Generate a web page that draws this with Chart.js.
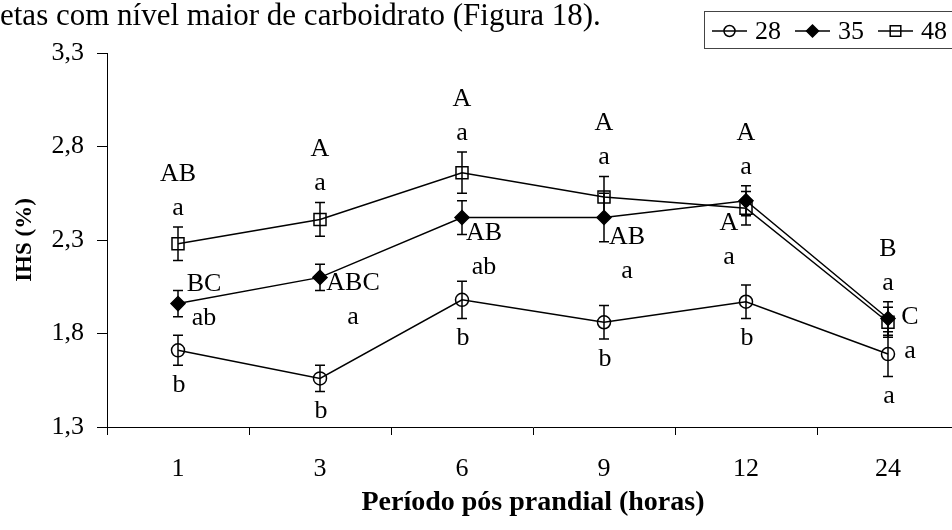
<!DOCTYPE html>
<html>
<head>
<meta charset="utf-8">
<script src="https://cdn.jsdelivr.net/npm/chart.js@4.4.1/dist/chart.umd.min.js"></script>
<style>
  html, body { margin: 0; padding: 0; background: #fff; overflow: hidden; }
  #wrap { position: relative; width: 952px; height: 530px; overflow: hidden; }
</style>
</head>
<body>
<div id="wrap"><canvas id="ihsChart" width="970" height="530"></canvas></div>
<script>
"use strict";

// período pós prandial (horas)
const periods = ['1', '3', '6', '9', '12', '24'];
const yTicks = [1.3, 1.8, 2.3, 2.8, 3.3];

// IHS (%) por nível de carboidrato + erro padrão
const ihs28 = [1.71, 1.56, 1.98, 1.86, 1.97, 1.69];
const err28 = [0.08, 0.07, 0.10, 0.09, 0.09, 0.12];
const ihs35 = [1.96, 2.10, 2.42, 2.42, 2.51, 1.88];
const err35 = [0.07, 0.07, 0.09, 0.13, 0.08, 0.09];
const ihs48 = [2.28, 2.41, 2.66, 2.53, 2.47, 1.86];
const err48 = [0.09, 0.09, 0.11, 0.11, 0.09, 0.08];

// letras de significancia
const upper48 = ['AB', 'A', 'A', 'A', 'A', 'B'];
const lower48 = ['a', 'a', 'a', 'a', 'a', 'a'];
const upper35 = ['BC', 'ABC', 'AB', 'AB', 'A', 'C'];
const lower35 = ['ab', 'a', 'ab', 'a', 'a', 'a'];
const lower28 = ['b', 'b', 'b', 'b', 'b', 'a'];

// where the 35 letters sit next to their point (px)
const shift35 = [[26, -19], [33, 6], [22, 16], [23, 20], [-17, 22], [22, -1]];

const serif = '"Liberation Serif", "Times New Roman", serif';
const errors = [err28, err35, err48];

const textFont = '26px ' + serif;

const topTextPlugin = {
  id: 'topText',
  afterDraw(chart) {
    const ctx = chart.ctx;
    ctx.save();
    ctx.font = '31px ' + serif;
    ctx.fillStyle = '#000';
    ctx.textAlign = 'left';
    ctx.textBaseline = 'alphabetic';
    ctx.fillText('etas com nível maior de carboidrato (Figura 18).', 0, 25);
    ctx.restore();
  }
};

const errorBarPlugin = {
  id: 'errorBars',
  afterDatasetsDraw(chart) {
    const {ctx, scales: {x, y}} = chart;
    ctx.save();
    ctx.strokeStyle = '#000';
    ctx.lineWidth = 1.5;
    chart.data.datasets.forEach((ds, k) => {
      ds.data.forEach((v, i) => {
        const px = x.getPixelForValue(i);
        const top = y.getPixelForValue(v + errors[k][i]);
        const bot = y.getPixelForValue(v - errors[k][i]);
        ctx.beginPath();
        ctx.moveTo(px, top);
        ctx.lineTo(px, bot);
        ctx.moveTo(px - 5, top);
        ctx.lineTo(px + 5, top);
        ctx.moveTo(px - 5, bot);
        ctx.lineTo(px + 5, bot);
        ctx.stroke();
      });
    });
    ctx.restore();
  }
};

const letterPlugin = {
  id: 'letters',
  afterDatasetsDraw(chart) {
    const {ctx, scales: {x, y}} = chart;
    ctx.save();
    ctx.font = textFont;
    ctx.fillStyle = '#000';
    ctx.textAlign = 'center';
    ctx.textBaseline = 'middle';
    periods.forEach((p, i) => {
      const px = x.getPixelForValue(i);
      const top = Math.min(
        y.getPixelForValue(ihs48[i] + err48[i]),
        y.getPixelForValue(ihs35[i] + err35[i]),
        y.getPixelForValue(ihs28[i] + err28[i])
      );
      ctx.fillText(lower48[i], px, top - 19);
      ctx.fillText(upper48[i], px, top - 53);

      const py35 = y.getPixelForValue(ihs35[i]);
      const sx = shift35[i][0];
      const sy = shift35[i][1];
      ctx.fillText(upper35[i], px + sx, py35 + sy);
      ctx.fillText(lower35[i], px + sx, py35 + sy + 34);

      const bot28 = y.getPixelForValue(ihs28[i] - err28[i]);
      ctx.fillText(lower28[i], px + 1, bot28 + 20);
    });
    ctx.restore();
  }
};

const legendBoxPlugin = {
  id: 'legendBox',
  afterDraw(chart) {
    const ctx = chart.ctx;
    const drawPoint = Chart.helpers.drawPoint;
    ctx.save();
    ctx.strokeStyle = '#444';
    ctx.lineWidth = 1;
    ctx.strokeRect(704.5, 11.5, 300, 37);
    ctx.font = textFont;
    ctx.textAlign = 'left';
    ctx.textBaseline = 'middle';
    chart.data.datasets.forEach((ds, k) => {
      const x0 = 712 + 83 * k;
      const cy = 31;
      ctx.strokeStyle = '#000';
      ctx.lineWidth = 1.5;
      ctx.beginPath();
      ctx.moveTo(x0, cy);
      ctx.lineTo(x0 + 35, cy);
      ctx.stroke();
      ctx.fillStyle = ds.pointBackgroundColor;
      drawPoint(ctx, {
        pointStyle: ds.pointStyle,
        radius: ds.pointRadius - 1,
        borderWidth: 1.5,
        rotation: 0
      }, x0 + 17.5, cy);
      ctx.fillStyle = '#000';
      ctx.fillText(ds.label, x0 + 43, cy + 1);
    });
    ctx.restore();
  }
};

const ctx = document.getElementById('ihsChart').getContext('2d');
const ihsChart = new Chart(ctx, {
  type: 'line',
  data: {
    labels: periods,
    datasets: [
      {
        label: '28',
        data: ihs28,
        pointStyle: 'circle',
        pointRadius: 6.5,
        pointBackgroundColor: 'rgba(0,0,0,0)'
      },
      {
        label: '35',
        data: ihs35,
        pointStyle: 'rectRot',
        pointRadius: 7,
        pointBackgroundColor: '#000'
      },
      {
        label: '48',
        data: ihs48,
        pointStyle: 'rect',
        pointRadius: 8.5,
        pointBackgroundColor: 'rgba(0,0,0,0)'
      }
    ].map(ds => Object.assign({
      borderColor: '#000',
      borderWidth: 1.5,
      pointBorderColor: '#000',
      pointBorderWidth: 1.5,
      tension: 0,
      fill: false
    }, ds))
  },
  options: {
    responsive: false,
    animation: false,
    layout: { padding: { left: 0, right: 11, top: 53, bottom: 0 } },
    plugins: {
      legend: { display: false },
      tooltip: { enabled: false }
    },
    scales: {
      x: {
        offset: true,
        grid: { offset: true, drawOnChartArea: false, color: '#000', tickLength: 8, tickWidth: 1 },
        border: { color: '#000', width: 1 },
        ticks: { color: '#000', font: { family: serif, size: 26 }, padding: 19, maxRotation: 0 },
        title: {
          display: true,
          text: 'Período pós prandial (horas)',
          color: '#000',
          font: { family: serif, size: 28, weight: 'bold' },
          padding: { top: 0, bottom: 10 }
        },
        afterFit: (scale) => { scale.height = 103; }
      },
      y: {
        min: 1.3,
        max: 3.3,
        grid: { drawOnChartArea: false, color: '#000', tickLength: 10, tickWidth: 1 },
        border: { color: '#000', width: 1 },
        ticks: {
          color: '#000',
          font: { family: serif, size: 26 },
          padding: 13,
          callback: (v) => Number(v).toFixed(1).replace('.', ',')
        },
        title: {
          display: true,
          text: 'IHS (%)',
          color: '#000',
          font: { family: serif, size: 23, weight: 'bold' },
          padding: { top: 11, bottom: 0 }
        },
        afterBuildTicks: (scale) => { scale.ticks = yTicks.map(v => ({ value: v })); },
        afterFit: (scale) => { scale.width = 107; }
      }
    }
  },
  plugins: [topTextPlugin, errorBarPlugin, letterPlugin, legendBoxPlugin]
});
</script>
</body>
</html>
